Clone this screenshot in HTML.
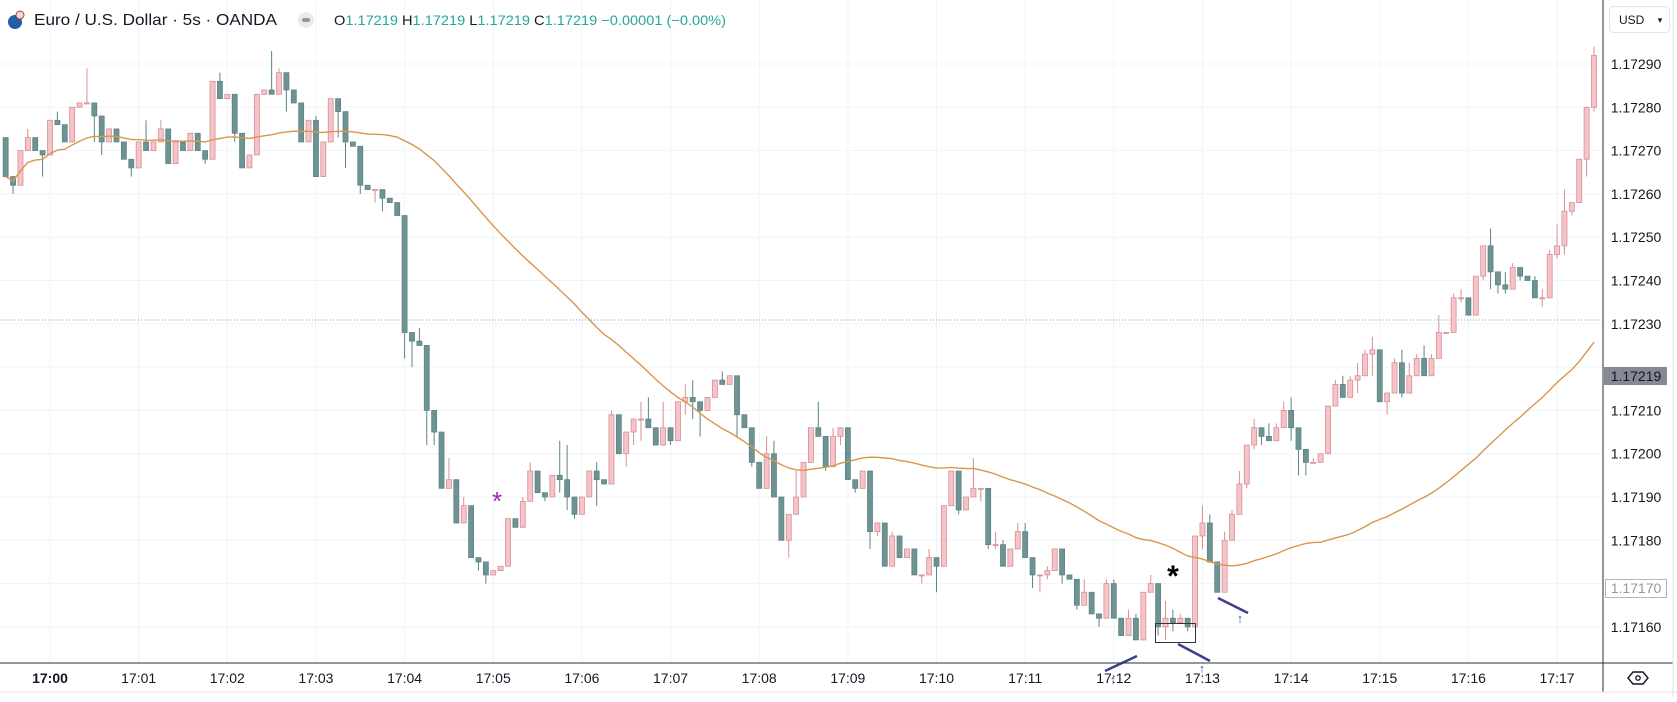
<!DOCTYPE html>
<html><head><meta charset="utf-8"><style>
html,body{margin:0;padding:0;background:#fff;}
body{width:1677px;height:697px;overflow:hidden;font-family:"Liberation Sans",sans-serif;}
svg text{font-family:"Liberation Sans",sans-serif;}
</style></head><body>
<svg id="chart" width="1677" height="697" viewBox="0 0 1677 697" xmlns="http://www.w3.org/2000/svg">
<rect x="0" y="0" width="1677" height="697" fill="#ffffff"/>
<g id="grid"></g>
<line x1="0" x2="1603" y1="320" y2="320" stroke="#9598a1" stroke-width="1" stroke-dasharray="1,2"/>
<g id="candles"></g>
<polyline id="ma" fill="none" stroke="#d9964c" stroke-width="1.4"/>
<g>
<text x="497" y="510" font-size="26" fill="#9c27b0" text-anchor="middle">*</text>
<text x="1173" y="586" font-size="30" font-weight="bold" fill="#000" text-anchor="middle">*</text>
<rect x="1155.5" y="623.5" width="40" height="19" fill="none" stroke="#333" stroke-width="1"/>
<line x1="1105" y1="671" x2="1137" y2="656" stroke="#3a3f8f" stroke-width="2.5"/>
<line x1="1178" y1="644" x2="1210" y2="661" stroke="#3a3f8f" stroke-width="2.5"/>
<line x1="1218" y1="598" x2="1248" y2="613" stroke="#3a3f8f" stroke-width="2.5"/>
<text x="1113" y="684" font-size="13" fill="#4a55b0" text-anchor="middle" font-weight="bold">↑</text>
<text x="1202" y="673" font-size="13" fill="#4a55b0" text-anchor="middle" font-weight="bold">↑</text>
<text x="1240" y="623" font-size="13" fill="#4a55b0" text-anchor="middle" font-weight="bold">↑</text>
</g>
<rect x="1603" y="0" width="74" height="697" fill="#fff"/>
<line x1="1603" x2="1603" y1="0" y2="692" stroke="#2a2e39" stroke-width="1"/>
<line x1="0" x2="1673" y1="663" y2="663" stroke="#2a2e39" stroke-width="1"/>
<line x1="1673" x2="1673" y1="0" y2="697" stroke="#e0e3eb" stroke-width="1"/>
<line x1="0" x2="1677" y1="692" y2="692" stroke="#e0e3eb" stroke-width="1"/>
<g id="yaxis"></g>
<g id="xaxis"></g>
<rect x="1604" y="367" width="63" height="18" fill="#868993"/>
<text x="1636" y="381" font-size="14" fill="#131722" text-anchor="middle">1.17219</text>
<rect x="1605.5" y="579.5" width="61" height="18" fill="#fff" stroke="#b2b5be"/>
<text x="1636" y="593" font-size="14" fill="#9598a1" text-anchor="middle">1.17170</text>
<rect x="1609.5" y="6.5" width="60" height="26" rx="4" fill="#fff" stroke="#e0e3eb"/>
<text x="1619" y="24" font-size="12" fill="#131722">USD</text>
<text x="1660" y="23" font-size="9" fill="#131722" text-anchor="middle">▾</text>
<g><polygon points="1633,672 1643,672 1648,678 1643,684 1633,684 1628,678" fill="none" stroke="#131722" stroke-width="1.4"/><circle cx="1638" cy="678" r="2.2" fill="none" stroke="#131722" stroke-width="1.3"/></g>
<g>
<circle cx="15" cy="22" r="7" fill="#1e5fa8"/>
<circle cx="20" cy="15" r="4" fill="#e0e0e0" stroke="#c33" stroke-width="1"/>
<text x="34" y="25" font-size="16" fill="#131722" textLength="243" lengthAdjust="spacingAndGlyphs">Euro / U.S. Dollar · 5s · OANDA</text>
<rect x="298" y="12" width="16" height="16" rx="8" fill="#e9eaec"/>
<rect x="302" y="18" width="8" height="4" rx="2" fill="#9598a1"/>
<text x="334" y="25" font-size="14" fill="#26a69a" textLength="392" lengthAdjust="spacingAndGlyphs"><tspan fill="#131722">O</tspan>1.17219 <tspan fill="#131722">H</tspan>1.17219 <tspan fill="#131722">L</tspan>1.17219 <tspan fill="#131722">C</tspan>1.17219 −0.00001 (−0.00%)</text>
</g>
</svg>
<script>
// values in units of 0.00001 above 1.17000
const firstOpen = 273;
const closes = [264,262,270,273,270,269,277,276,272,280,281,281,278,272,275,272,268,266,272,270,
272,275,267,272,270,274,270,268,286,282,283,274,266,269,283,284,283,288,284,281,
272,277,264,272,282,279,272,271,262,261,261,259,258,255,228,226,225,210,205,192,
194,184,188,176,175,172,173,174,185,183,189,196,191,190,195,194,190,186,190,196,
194,193,209,200,205,208,208,206,202,206,203,212,213,212,210,213,217,216,218,209,
206,198,192,200,190,180,186,190,198,206,204,197,204,206,194,192,196,182,184,174,
181,176,178,172,172,176,174,188,196,187,190,192,192,179,179,174,178,182,176,172,
172,173,178,172,171,165,168,163,162,170,162,158,162,157,168,170,160,162,161,162,
160,181,184,175,168,180,186,193,202,206,204,203,206,210,206,201,198,198,200,211,
216,213,217,218,223,224,212,214,221,214,218,222,218,222,228,228,236,236,232,241,
248,242,239,238,243,241,240,236,236,246,248,256,258,268,280,292];
const wickHi = [0,0,0,2,0,0,0,2,0,0,0,8,0,0,0,0,0,0,0,5,0,2,0,0,0,0,0,0,0,2,
0,0,0,0,0,0,9,1,0,0,0,0,1,0,0,0,0,0,0,0,0,0,0,0,0,0,3,0,0,0,
5,0,2,0,0,0,0,0,0,0,1,2,0,0,0,8,8,0,0,0,2,0,1,0,0,0,4,5,0,6,
0,0,3,4,0,0,0,2,0,0,0,0,0,4,3,0,0,6,0,0,6,0,2,0,0,0,0,0,0,0,
1,0,0,0,0,2,0,0,0,0,0,7,0,0,3,1,0,2,2,0,0,1,0,0,0,0,3,0,0,1,
1,0,2,1,0,2,0,4,2,1,0,0,4,2,0,2,1,3,0,2,0,3,1,2,3,0,0,1,0,0,
1,2,1,3,1,3,0,0,1,3,3,1,3,1,4,0,1,2,0,0,0,4,0,3,1,0,0,1,2,1,
5,5,0,0,0,2];
const wickLo = [0,2,0,0,0,5,0,0,0,0,0,0,6,3,0,0,0,2,0,0,0,0,0,0,0,0,0,1,0,0,
0,2,0,0,0,0,0,0,5,0,0,0,0,0,0,6,6,0,2,0,3,3,0,0,6,6,0,8,3,0,
0,0,0,0,2,2,0,0,0,0,0,0,0,1,0,3,3,1,0,0,6,0,0,0,3,3,5,0,0,0,
1,0,3,4,6,0,0,0,0,5,0,1,0,0,0,0,4,0,0,0,0,1,0,2,0,1,0,4,1,0,
0,0,0,0,2,0,6,0,0,1,0,0,3,1,1,0,0,0,0,3,4,1,0,2,0,1,0,0,2,0,
0,0,0,0,0,0,2,3,2,0,1,0,3,0,0,0,0,0,1,1,2,0,0,0,3,6,3,0,0,0,
0,0,0,3,0,5,0,3,0,1,0,0,0,0,0,0,0,1,0,0,1,4,2,1,0,1,0,0,2,0,
1,2,1,0,4,1];
const priceTicks = [1.17290,1.17280,1.17270,1.17260,1.17250,1.17240,1.17230,1.17220,1.17210,1.17200,1.17190,1.17180,1.17170,1.17160];
const hiddenTickLabels = ["1.17220","1.17170"];
const timeLabels = ["17:00","17:01","17:02","17:03","17:04","17:05","17:06","17:07","17:08","17:09","17:10","17:11","17:12","17:13","17:14","17:15","17:16","17:17"];
const maPeriod = 50;

const NS = "http://www.w3.org/2000/svg";
function yOf(v){ return 64 + (290 - v) * 4.33; }
function yOfPrice(p){ return yOf(Math.round((p - 1.17) * 1e5 * 100) / 100); }
function xOf(i){ return 50 + (i - 6) * 7.3875; }
function xOfMinute(m){ return 50 + m * 88.65; }
function mk(tag, attrs, parent){ const e = document.createElementNS(NS, tag); for (const k in attrs) e.setAttribute(k, attrs[k]); parent.appendChild(e); return e; }

const grid = document.getElementById('grid');
const yaxis = document.getElementById('yaxis');
const xaxis = document.getElementById('xaxis');
priceTicks.forEach(function(p){
  const y = yOfPrice(p);
  const gl = mk('line', {x1:0, x2:1603, y1:y, y2:y, stroke:'#f0f3fa', 'stroke-width':1}, grid);
  
  
  if (hiddenTickLabels.indexOf(p.toFixed(5)) >= 0) return;
  const t = mk('text', {x:1636, y:y+5, 'font-size':14, fill:'#131722', 'text-anchor':'middle'}, yaxis);
  t.textContent = p.toFixed(5);
  
  
});
timeLabels.forEach(function(lbl, m){
  const x = xOfMinute(m);
  const gl = mk('line', {x1:x, x2:x, y1:0, y2:663, stroke:'#f0f3fa', 'stroke-width':1}, grid);
  
  
  const t = mk('text', {x:x, y:683, 'font-size':14, fill:'#131722', 'text-anchor':'middle', 'font-weight': m === 0 ? 'bold' : 'normal'}, xaxis);
  t.textContent = lbl;
  
  
});

const cg = document.getElementById('candles');
closes.forEach(function(c, i){
  const o = i === 0 ? firstOpen : closes[i-1];
  const up = c >= o;
  const hi = Math.max(o, c) + wickHi[i];
  const lo = Math.min(o, c) - wickLo[i];
  const x = xOf(i);
  const stroke = up ? '#d98e94' : '#5b8584';
  const fill = up ? '#f5c4c8' : '#6f9394';
  const g = mk('g', {}, cg);
  
  
  mk('line', {x1:x, x2:x, y1:yOf(hi), y2:yOf(lo), stroke:stroke, 'stroke-width':1}, g);
  const yt = yOf(Math.max(o, c)), yb = yOf(Math.min(o, c));
  mk('rect', {x:x-2.5, y:yt, width:5, height:Math.max(1, yb-yt), fill:fill, stroke:stroke, 'stroke-width':0.8}, g);
});

const pts = [];
closes.forEach(function(c, i){
  const s = Math.max(0, i - maPeriod + 1);
  let sum = 0;
  for (let k = s; k <= i; k++) sum += closes[k];
  pts.push(xOf(i).toFixed(1) + ',' + yOf(sum / (i - s + 1)).toFixed(1));
});
document.getElementById('ma').setAttribute('points', pts.join(' '));
</script>
</body></html>
